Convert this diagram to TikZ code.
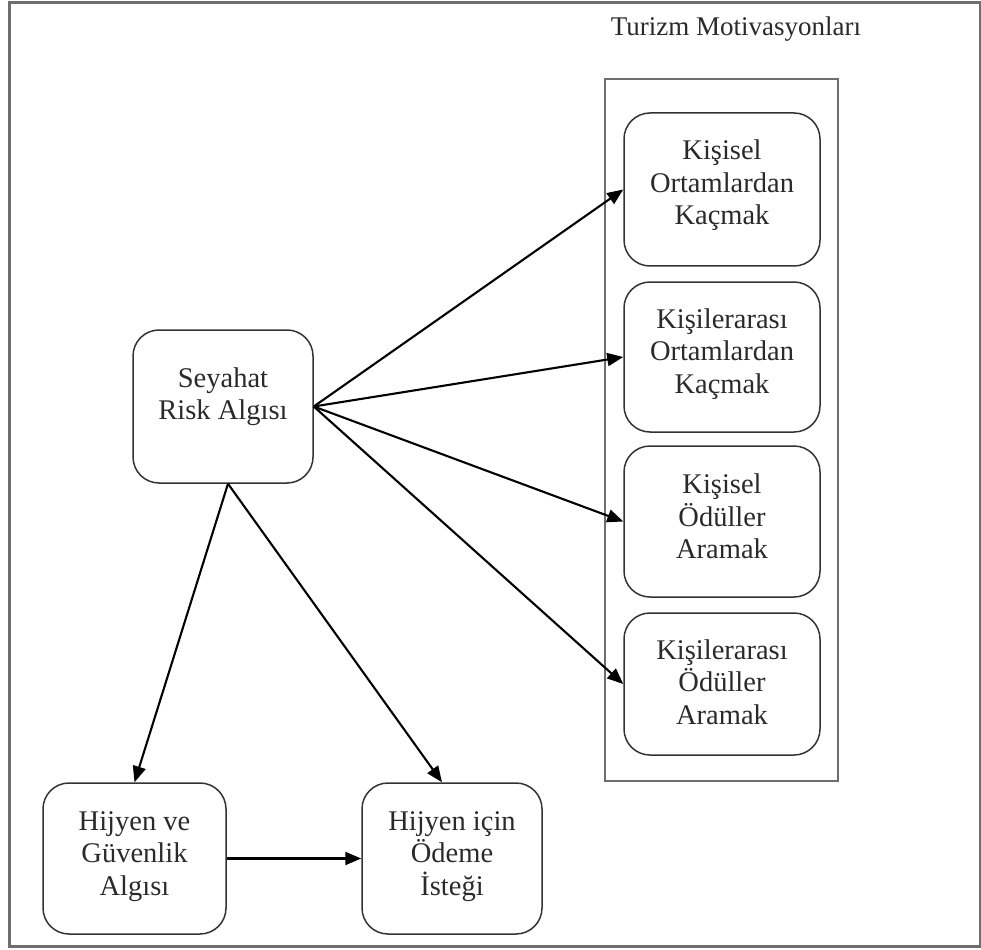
\documentclass[tikz,border=0pt]{standalone}
\usepackage{fontspec}
\setmainfont{Liberation Serif}
\usetikzlibrary{arrows.meta}
\definecolor{inkgray}{HTML}{2A2A2A}
\definecolor{framegray}{HTML}{6E6E6E}
\tikzset{
  box/.style={draw=black!80, line width=1.5pt, rounded corners=26pt},
  lbl/.style={align=center, text=inkgray, font=\fontsize{28.5}{32.5}\selectfont},
  arr/.style={draw=black, line width=2.1pt, -{Triangle[length=16pt,width=13pt]}}
}
\begin{document}
\begin{tikzpicture}[x=1pt,y=-1pt]
\useasboundingbox (0,0) rectangle (981,949);
% outer frame
\draw[framegray, line width=2.2pt] (9.5,2.5) rectangle (980,946.5);

% title and container of motivations
\node[text=inkgray, font=\fontsize{27}{32}\selectfont] (title) at (736,29) {Turizm Motivasyonları};
\draw[framegray, line width=1.8pt] (605,79) rectangle (838,781);

% motivation boxes
\node[box, minimum width=196pt, minimum height=153pt] (m1) at (722,189.5) {};
\node[box, minimum width=196pt, minimum height=150pt] (m2) at (722,357) {};
\node[box, minimum width=196pt, minimum height=151pt] (m3) at (722,521.5) {};
\node[box, minimum width=196pt, minimum height=142pt] (m4) at (722,684) {};
\node[lbl] (t1) at ([yshift=4pt]m1.center) {Kişisel\\Ortamlardan\\Kaçmak};
\node[lbl] (t2) at ([yshift=3pt]m2.center) {Kişilerarası\\Ortamlardan\\Kaçmak};
\node[lbl] (t3) at ([yshift=5pt]m3.center) {Kişisel\\Ödüller\\Aramak};
\node[lbl] (t4) at ([yshift=2pt]m4.center) {Kişilerarası\\Ödüller\\Aramak};

% risk perception
\node[box, minimum width=180pt, minimum height=153pt] (risk) at (223,406.5) {};
\node[lbl] (tr) at ([yshift=10pt]risk.center) {Seyahat\\Risk Algısı};

% hygiene boxes
\node[box, minimum width=183pt, minimum height=151pt] (h1) at (134.5,858.5) {};
\node[box, minimum width=180pt, minimum height=151pt] (h2) at (452,858.5) {};
\node[lbl] (th1) at ([yshift=2pt]h1.center) {Hijyen ve\\Güvenlik\\Algısı};
\node[lbl] (th2) at ([yshift=2pt]h2.center) {Hijyen için\\Ödeme\\İsteği};

% connectors
\draw[arr] (risk.east) -- (m1.west);
\draw[arr] (risk.east) -- (m2.west);
\draw[arr] (risk.east) -- (m3.west);
\draw[arr] (risk.east) -- (m4.west);
\draw[arr] ([xshift=5pt]risk.south) -- (h1.north);
\draw[arr] ([xshift=5pt]risk.south) -- ([xshift=-10pt]h2.north);
\draw[arr] (h1.east) -- (h2.west);
\end{tikzpicture}
\end{document}
